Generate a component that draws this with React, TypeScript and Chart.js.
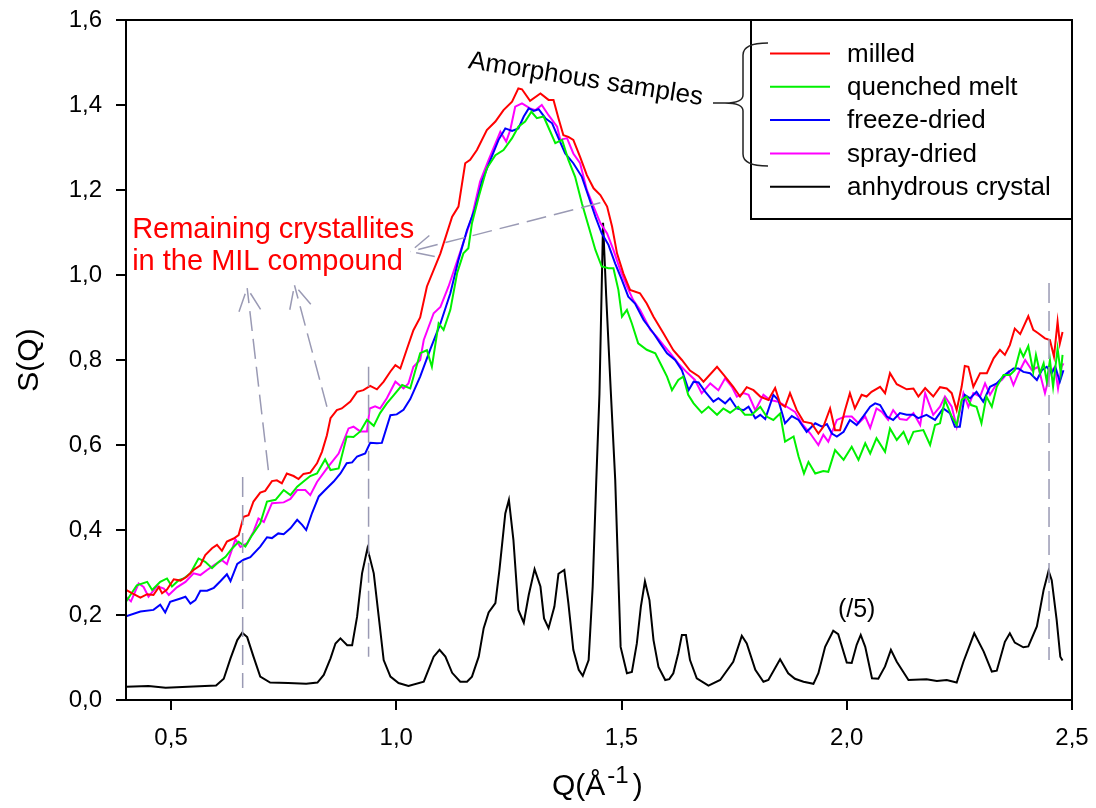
import React, { useEffect, useRef } from "react";
import { Chart, registerables } from "chart.js";

Chart.register(...registerables);

const FONT = '"Liberation Sans", Arial, Helvetica, sans-serif';

const seriesLabels = ["milled", "quenched melt", "freeze-dried", "spray-dried", "anhydrous crystal"];
const seriesColors = ["#ff0000", "#00f000", "#0000ff", "#ff00ff", "#000000"];

const milledQ = [0.400,0.412,0.432,0.447,0.461,0.473,0.480,0.491,0.506,0.521,0.535,0.550,0.565,0.576,0.591,0.602,0.613,0.624,0.639,0.650,0.661,0.672,0.683,0.698,0.709,0.724,0.735,0.746,0.757,0.772,0.783,0.794,0.809,0.824,0.835,0.846,0.854,0.868,0.879,0.898,0.913,0.927,0.942,0.957,0.972,0.987,0.998,1.009,1.024,1.038,1.053,1.068,1.098,1.124,1.138,1.153,1.164,1.179,1.201,1.220,1.238,1.257,1.271,1.279,1.297,1.320,1.338,1.349,1.360,1.371,1.382,1.393,1.408,1.423,1.438,1.453,1.468,1.479,1.490,1.504,1.519,1.541,1.556,1.571,1.593,1.615,1.634,1.652,1.671,1.682,1.712,1.730,1.748,1.763,1.778,1.793,1.808,1.826,1.841,1.852,1.863,1.874,1.889,1.904,1.922,1.937,1.948,1.963,1.974,1.985,1.996,2.007,2.018,2.033,2.044,2.055,2.074,2.085,2.096,2.111,2.133,2.148,2.159,2.174,2.192,2.207,2.222,2.233,2.244,2.255,2.262,2.270,2.281,2.296,2.311,2.326,2.340,2.351,2.362,2.373,2.385,2.403,2.414,2.425,2.440,2.451,2.460,2.468,2.473,2.479];
const milledS = [0.259,0.252,0.241,0.249,0.247,0.266,0.251,0.260,0.284,0.281,0.290,0.306,0.317,0.341,0.357,0.365,0.351,0.373,0.380,0.388,0.431,0.435,0.467,0.488,0.492,0.515,0.517,0.510,0.533,0.527,0.520,0.532,0.535,0.557,0.584,0.623,0.663,0.682,0.686,0.702,0.725,0.729,0.739,0.731,0.749,0.773,0.788,0.780,0.827,0.870,0.900,0.973,1.051,1.137,1.161,1.263,1.271,1.294,1.341,1.361,1.388,1.408,1.439,1.437,1.410,1.427,1.412,1.412,1.369,1.329,1.325,1.318,1.278,1.235,1.204,1.188,1.161,1.114,1.051,1.004,0.965,0.957,0.933,0.902,0.863,0.823,0.800,0.775,0.762,0.749,0.784,0.761,0.737,0.714,0.736,0.729,0.714,0.706,0.734,0.698,0.690,0.722,0.682,0.655,0.651,0.627,0.643,0.686,0.635,0.635,0.682,0.722,0.686,0.718,0.714,0.725,0.737,0.722,0.769,0.743,0.731,0.733,0.714,0.734,0.714,0.736,0.733,0.722,0.682,0.737,0.786,0.784,0.737,0.769,0.769,0.804,0.824,0.812,0.835,0.874,0.861,0.903,0.871,0.863,0.851,0.847,0.808,0.890,0.839,0.866];

const quenchedQ = [0.400,0.424,0.447,0.458,0.476,0.491,0.502,0.517,0.528,0.543,0.561,0.576,0.591,0.606,0.621,0.635,0.650,0.665,0.680,0.698,0.713,0.732,0.750,0.765,0.780,0.794,0.809,0.824,0.842,0.854,0.872,0.890,0.905,0.920,0.935,0.950,0.964,0.979,0.994,1.013,1.031,1.053,1.068,1.079,1.094,1.105,1.120,1.135,1.149,1.160,1.168,1.183,1.201,1.220,1.238,1.257,1.271,1.286,1.300,1.312,1.327,1.342,1.353,1.368,1.382,1.397,1.412,1.427,1.442,1.456,1.471,1.482,1.493,1.501,1.512,1.523,1.537,1.556,1.575,1.590,1.601,1.612,1.626,1.637,1.648,1.660,1.678,1.693,1.712,1.726,1.741,1.759,1.774,1.789,1.808,1.822,1.837,1.852,1.863,1.882,1.893,1.905,1.915,1.930,1.948,1.959,1.974,1.993,2.011,2.026,2.041,2.052,2.066,2.085,2.096,2.111,2.126,2.137,2.148,2.170,2.185,2.196,2.207,2.218,2.233,2.244,2.255,2.266,2.276,2.288,2.299,2.310,2.322,2.333,2.348,2.362,2.373,2.385,2.392,2.403,2.414,2.420,2.429,2.437,2.444,2.451,2.458,2.468,2.475,2.479];
const quenchedS = [0.231,0.270,0.278,0.259,0.278,0.286,0.267,0.282,0.286,0.298,0.333,0.325,0.310,0.325,0.337,0.356,0.372,0.361,0.388,0.416,0.467,0.471,0.494,0.482,0.502,0.514,0.527,0.533,0.566,0.541,0.545,0.620,0.619,0.632,0.659,0.645,0.675,0.698,0.717,0.741,0.733,0.816,0.823,0.784,0.886,0.871,0.918,1.004,1.051,1.063,1.122,1.184,1.251,1.282,1.294,1.322,1.349,1.361,1.384,1.369,1.373,1.337,1.310,1.318,1.271,1.231,1.169,1.114,1.059,1.020,1.016,1.016,0.965,0.902,0.918,0.886,0.839,0.824,0.816,0.784,0.761,0.729,0.753,0.761,0.718,0.698,0.676,0.690,0.671,0.686,0.676,0.690,0.671,0.671,0.690,0.667,0.659,0.674,0.608,0.620,0.573,0.533,0.560,0.533,0.539,0.537,0.588,0.565,0.596,0.565,0.604,0.580,0.616,0.584,0.639,0.612,0.631,0.604,0.631,0.635,0.600,0.647,0.651,0.706,0.667,0.647,0.706,0.714,0.694,0.690,0.651,0.714,0.690,0.737,0.765,0.765,0.776,0.824,0.808,0.833,0.772,0.812,0.769,0.792,0.749,0.800,0.737,0.827,0.769,0.812];

const freezeQ = [0.400,0.432,0.461,0.476,0.487,0.498,0.521,0.532,0.543,0.554,0.565,0.580,0.595,0.610,0.624,0.632,0.647,0.661,0.676,0.698,0.713,0.724,0.738,0.750,0.765,0.780,0.791,0.800,0.813,0.828,0.842,0.861,0.876,0.890,0.902,0.913,0.931,0.942,0.957,0.968,0.987,1.001,1.016,1.031,1.053,1.075,1.098,1.120,1.138,1.157,1.175,1.190,1.209,1.227,1.242,1.257,1.271,1.283,1.294,1.305,1.316,1.331,1.346,1.360,1.375,1.393,1.412,1.427,1.442,1.456,1.471,1.486,1.501,1.515,1.530,1.549,1.571,1.586,1.601,1.619,1.634,1.649,1.660,1.671,1.686,1.704,1.715,1.730,1.741,1.756,1.771,1.782,1.797,1.808,1.819,1.837,1.848,1.863,1.878,1.893,1.911,1.930,1.945,1.956,1.967,1.978,1.993,2.007,2.022,2.037,2.052,2.063,2.074,2.089,2.103,2.118,2.133,2.148,2.159,2.177,2.196,2.214,2.229,2.240,2.251,2.262,2.274,2.288,2.303,2.318,2.333,2.351,2.370,2.381,2.392,2.407,2.422,2.433,2.444,2.455,2.463,2.473,2.481];
const freezeS = [0.197,0.208,0.212,0.224,0.206,0.231,0.239,0.243,0.227,0.235,0.257,0.257,0.264,0.280,0.296,0.280,0.320,0.330,0.336,0.361,0.383,0.381,0.392,0.390,0.404,0.424,0.412,0.400,0.440,0.479,0.494,0.514,0.533,0.557,0.559,0.573,0.580,0.605,0.604,0.605,0.670,0.672,0.683,0.708,0.761,0.824,0.886,0.957,1.035,1.106,1.157,1.220,1.271,1.318,1.345,1.339,1.345,1.373,1.392,1.386,1.390,1.369,1.357,1.322,1.286,1.263,1.231,1.184,1.137,1.098,1.071,1.027,0.988,0.949,0.933,0.894,0.863,0.839,0.816,0.800,0.776,0.729,0.749,0.747,0.725,0.702,0.710,0.698,0.710,0.686,0.682,0.690,0.663,0.671,0.661,0.718,0.706,0.651,0.668,0.659,0.631,0.651,0.643,0.649,0.627,0.620,0.631,0.659,0.647,0.668,0.690,0.698,0.694,0.667,0.659,0.675,0.671,0.671,0.663,0.671,0.659,0.686,0.675,0.643,0.643,0.718,0.710,0.725,0.702,0.737,0.745,0.765,0.780,0.780,0.772,0.769,0.753,0.776,0.784,0.769,0.784,0.749,0.776];

const sprayQ = [0.400,0.411,0.428,0.439,0.450,0.469,0.484,0.495,0.513,0.532,0.550,0.565,0.580,0.598,0.613,0.624,0.643,0.654,0.669,0.683,0.694,0.706,0.724,0.750,0.765,0.780,0.798,0.809,0.824,0.846,0.872,0.894,0.905,0.920,0.935,0.941,0.953,0.964,0.979,0.998,1.016,1.027,1.038,1.053,1.061,1.083,1.098,1.116,1.131,1.146,1.168,1.186,1.205,1.231,1.244,1.253,1.264,1.279,1.297,1.309,1.323,1.338,1.357,1.364,1.379,1.393,1.408,1.423,1.438,1.453,1.468,1.482,1.497,1.512,1.526,1.541,1.564,1.578,1.593,1.608,1.626,1.645,1.663,1.678,1.697,1.715,1.730,1.745,1.756,1.771,1.782,1.797,1.815,1.830,1.848,1.867,1.885,1.900,1.919,1.937,1.948,1.959,1.978,1.996,2.011,2.026,2.041,2.052,2.066,2.078,2.092,2.103,2.118,2.133,2.148,2.163,2.174,2.192,2.207,2.218,2.233,2.244,2.259,2.270,2.281,2.296,2.307,2.318,2.333,2.344,2.359,2.370,2.381,2.396,2.411,2.425,2.440,2.451,2.462,2.469,2.477,2.481];
const sprayS = [0.243,0.232,0.274,0.266,0.243,0.268,0.262,0.247,0.265,0.278,0.298,0.294,0.306,0.319,0.329,0.320,0.378,0.360,0.369,0.396,0.427,0.419,0.463,0.465,0.473,0.494,0.494,0.482,0.513,0.545,0.580,0.639,0.643,0.632,0.632,0.686,0.691,0.686,0.710,0.749,0.733,0.745,0.784,0.800,0.847,0.910,0.925,0.973,1.020,1.067,1.137,1.220,1.271,1.337,1.314,1.341,1.396,1.404,1.392,1.388,1.400,1.376,1.349,1.318,1.322,1.286,1.263,1.200,1.161,1.122,1.098,1.059,1.012,0.973,0.941,0.918,0.871,0.855,0.835,0.816,0.792,0.771,0.753,0.722,0.745,0.729,0.757,0.737,0.714,0.722,0.718,0.682,0.718,0.706,0.702,0.690,0.678,0.651,0.627,0.600,0.624,0.608,0.659,0.667,0.667,0.651,0.667,0.640,0.686,0.678,0.659,0.682,0.661,0.659,0.675,0.647,0.722,0.671,0.690,0.714,0.690,0.643,0.722,0.690,0.722,0.714,0.745,0.718,0.745,0.753,0.772,0.741,0.769,0.800,0.776,0.784,0.722,0.769,0.784,0.733,0.784,0.792];

const crystalQ = [0.400,0.450,0.488,0.550,0.600,0.617,0.632,0.647,0.658,0.669,0.683,0.698,0.720,0.760,0.800,0.825,0.839,0.854,0.865,0.876,0.891,0.902,0.913,0.924,0.936,0.950,0.961,0.972,0.987,1.005,1.027,1.061,1.083,1.096,1.109,1.124,1.142,1.157,1.168,1.183,1.194,1.205,1.220,1.229,1.242,1.250,1.260,1.271,1.283,1.294,1.307,1.320,1.328,1.338,1.351,1.360,1.373,1.382,1.393,1.405,1.414,1.427,1.436,1.444,1.451,1.459,1.466,1.476,1.486,1.498,1.512,1.523,1.534,1.543,1.552,1.562,1.571,1.582,1.597,1.606,1.615,1.626,1.634,1.643,1.652,1.667,1.693,1.719,1.748,1.767,1.778,1.797,1.815,1.826,1.852,1.870,1.885,1.904,1.926,1.937,1.952,1.970,1.981,2.000,2.011,2.022,2.031,2.041,2.056,2.070,2.085,2.098,2.111,2.137,2.177,2.200,2.222,2.244,2.259,2.283,2.304,2.322,2.333,2.351,2.362,2.373,2.392,2.403,2.422,2.437,2.448,2.455,2.466,2.474,2.479];
const crystalS = [0.031,0.033,0.029,0.032,0.034,0.050,0.098,0.141,0.158,0.148,0.102,0.055,0.041,0.040,0.038,0.041,0.059,0.098,0.133,0.145,0.129,0.129,0.196,0.298,0.357,0.298,0.196,0.094,0.055,0.040,0.033,0.043,0.102,0.118,0.102,0.064,0.043,0.043,0.055,0.102,0.169,0.206,0.228,0.306,0.439,0.471,0.377,0.212,0.182,0.247,0.308,0.267,0.192,0.169,0.220,0.297,0.306,0.228,0.118,0.071,0.057,0.094,0.267,0.518,0.720,1.123,0.950,0.730,0.518,0.125,0.063,0.066,0.133,0.220,0.279,0.235,0.141,0.078,0.047,0.049,0.063,0.110,0.153,0.153,0.094,0.051,0.034,0.047,0.090,0.151,0.133,0.071,0.043,0.047,0.096,0.063,0.050,0.043,0.038,0.063,0.125,0.163,0.155,0.088,0.087,0.130,0.153,0.125,0.051,0.050,0.079,0.118,0.090,0.047,0.049,0.045,0.047,0.041,0.090,0.157,0.114,0.067,0.069,0.137,0.157,0.135,0.124,0.126,0.173,0.259,0.304,0.282,0.188,0.102,0.093];

const seriesQ = [milledQ, quenchedQ, freezeQ, sprayQ, crystalQ];
const seriesS = [milledS, quenchedS, freezeS, sprayS, crystalS];

const xTicks = [0.5, 1.0, 1.5, 2.0, 2.5];
const yTicks = [0, 0.2, 0.4, 0.6, 0.8, 1.0, 1.2, 1.4, 1.6];

// annotation anchors in data units (Q, S)
const guideQ = [0.659, 0.9385, 2.449];
const guideTopS = [0.525, 0.784, 0.981];
const guideBottomS = [0.028, 0.102, 0.094];
const arrowTailQ = [0.716, 0.846, 1.453];
const arrowTailS = [0.541, 0.690, 1.170];
const arrowTipQ = [0.669, 0.774, 1.031];
const arrowTipS = [0.969, 0.976, 1.055];

const fmt = (v: number) => v.toFixed(1).replace(".", ",");

const overlay = {
  id: "overlay",
  afterDraw(chart: any) {
    const { ctx, chartArea: a, scales } = chart;
    const xs = scales.x;
    const ys = scales.y;
    const px = (q: number) => xs.getPixelForValue(q);
    const py = (s: number) => ys.getPixelForValue(s);
    ctx.save();

    // frame
    ctx.strokeStyle = "#000";
    ctx.lineWidth = 2;
    ctx.strokeRect(a.left, a.top, a.right - a.left, a.bottom - a.top);

    // dashed guides
    ctx.strokeStyle = "#9a9ab4";
    ctx.lineWidth = 1.5;
    ctx.setLineDash([20, 8]);
    for (let i = 0; i < guideQ.length; i++) {
      ctx.beginPath();
      ctx.moveTo(px(guideQ[i]), py(guideTopS[i]));
      ctx.lineTo(px(guideQ[i]), py(guideBottomS[i]));
      ctx.stroke();
    }
    // dashed arrows
    for (let i = 0; i < arrowTailQ.length; i++) {
      const x0 = px(arrowTailQ[i]), y0 = py(arrowTailS[i]);
      const x1 = px(arrowTipQ[i]), y1 = py(arrowTipS[i]);
      ctx.setLineDash([20, 8]);
      ctx.beginPath();
      ctx.moveTo(x0, y0);
      ctx.lineTo(x1, y1);
      ctx.stroke();
      const ang = Math.atan2(y0 - y1, x0 - x1);
      ctx.setLineDash([]);
      ctx.beginPath();
      for (const d of [-0.45, 0.45]) {
        ctx.moveTo(x1 + 6 * Math.cos(ang + d), y1 + 6 * Math.sin(ang + d));
        ctx.lineTo(x1 + 25 * Math.cos(ang + d), y1 + 25 * Math.sin(ang + d));
      }
      ctx.stroke();
    }
    ctx.setLineDash([]);

    // legend box
    const lx = a.right - 321;
    const ly = a.top;
    ctx.fillStyle = "#fff";
    ctx.fillRect(lx, ly, a.right - lx, 199);
    ctx.strokeStyle = "#000";
    ctx.lineWidth = 2;
    ctx.strokeRect(lx, ly, a.right - lx, 199);
    ctx.font = `26px ${FONT}`;
    ctx.textBaseline = "middle";
    ctx.textAlign = "left";
    for (let i = 0; i < seriesLabels.length; i++) {
      const ry = ly + 33.5 + i * 33.3;
      ctx.strokeStyle = seriesColors[i];
      ctx.lineWidth = 2;
      ctx.beginPath();
      ctx.moveTo(lx + 19, ry);
      ctx.lineTo(lx + 79, ry);
      ctx.stroke();
      ctx.fillStyle = "#000";
      ctx.fillText(seriesLabels[i], lx + 96, ry + 1);
    }

    // brace
    const bx = lx - 8;
    ctx.strokeStyle = "#222";
    ctx.lineWidth = 1.5;
    ctx.beginPath();
    ctx.moveTo(lx + 17, ly + 23);
    ctx.quadraticCurveTo(bx, ly + 23, bx, ly + 35);
    ctx.lineTo(bx, ly + 75);
    ctx.quadraticCurveTo(bx, ly + 83, bx - 18, ly + 83);
    ctx.quadraticCurveTo(bx, ly + 83, bx, ly + 91);
    ctx.lineTo(bx, ly + 134);
    ctx.quadraticCurveTo(bx, ly + 146, lx + 17, ly + 146);
    ctx.moveTo(bx - 18, ly + 83);
    ctx.lineTo(bx - 30, ly + 83);
    ctx.stroke();

    // Amorphous samples
    ctx.fillStyle = "#000";
    ctx.font = `26px ${FONT}`;
    ctx.textBaseline = "alphabetic";
    ctx.save();
    ctx.translate(px(1.158), py(1.487));
    ctx.rotate((9 * Math.PI) / 180);
    ctx.fillText("Amorphous samples", 0, 0);
    ctx.restore();

    // red annotation
    ctx.fillStyle = "#ff0000";
    ctx.font = `29px ${FONT}`;
    ctx.fillText("Remaining crystallites", px(0.4136), py(1.086));
    ctx.fillText("in the MIL compound", px(0.4136), py(1.086) + 32);

    // (/5)
    ctx.fillStyle = "#000";
    ctx.font = `25px ${FONT}`;
    ctx.textAlign = "center";
    ctx.fillText("(/5)", px(2.022), py(0.196));

    // x axis title with superscript
    ctx.textAlign = "left";
    const tx = 552;
    const tyb = 795;
    ctx.font = `30px ${FONT}`;
    ctx.fillText("Q(Å", tx, tyb);
    const w1 = ctx.measureText("Q(Å").width;
    ctx.font = `24px ${FONT}`;
    ctx.fillText("-1", tx + w1 + 2, tyb - 12);
    const w2 = ctx.measureText("-1").width;
    ctx.font = `30px ${FONT}`;
    ctx.fillText(")", tx + w1 + w2 + 6, tyb);

    // y axis title
    ctx.save();
    ctx.translate(38, (a.top + a.bottom) / 2);
    ctx.rotate(-Math.PI / 2);
    ctx.textAlign = "center";
    ctx.textBaseline = "alphabetic";
    ctx.font = `30px ${FONT}`;
    ctx.fillText("S(Q)", 0, 0);
    ctx.restore();

    ctx.restore();
  },
};

export default function App() {
  const ref = useRef<HTMLCanvasElement | null>(null);
  useEffect(() => {
    if (!ref.current) return;
    const datasets = seriesLabels.map((label, i) => ({
      label,
      data: seriesQ[i].map((q, j) => ({ x: q, y: seriesS[i][j] })),
      borderColor: seriesColors[i],
      backgroundColor: seriesColors[i],
      borderWidth: 2,
      pointRadius: 0,
      tension: 0,
      fill: false,
    }));
    const chart = new Chart(ref.current, {
      type: "line",
      data: { datasets },
      options: {
        responsive: false,
        animation: false,
        events: [],
        layout: { autoPadding: false, padding: { left: 0, right: 24, top: 20, bottom: 0 } },
        plugins: { legend: { display: false }, tooltip: { enabled: false } },
        scales: {
          x: {
            type: "linear",
            min: 0.4,
            max: 2.5,
            afterBuildTicks: (s: any) => {
              s.ticks = xTicks.map((v) => ({ value: v }));
            },
            afterFit: (s: any) => {
              s.height = 108;
              s.paddingLeft = 0;
              s.paddingRight = 0;
              s.paddingTop = 0;
              s.paddingBottom = 0;
            },
            ticks: {
              callback: (v: any) => fmt(Number(v)),
              font: { family: FONT, size: 24 },
              color: "#000",
              padding: 14,
              maxRotation: 0,
            },
            grid: { drawOnChartArea: false, drawTicks: true, tickLength: 10, color: "#000", lineWidth: 2 },
            border: { display: true, color: "#000", width: 2 },
          },
          y: {
            type: "linear",
            min: 0,
            max: 1.6,
            afterBuildTicks: (s: any) => {
              s.ticks = yTicks.map((v) => ({ value: v }));
            },
            afterFit: (s: any) => {
              s.width = 126;
              s.paddingLeft = 0;
              s.paddingRight = 0;
              s.paddingTop = 0;
              s.paddingBottom = 0;
            },
            ticks: {
              callback: (v: any) => fmt(Number(v)),
              font: { family: FONT, size: 24 },
              color: "#000",
              padding: 14,
            },
            grid: { drawOnChartArea: false, drawTicks: true, tickLength: 10, color: "#000", lineWidth: 2 },
            border: { display: true, color: "#000", width: 2 },
          },
        },
      },
      plugins: [overlay],
    });
    return () => chart.destroy();
  }, []);
  return (
    <div style={{ position: "absolute", left: 0, top: 0, width: 1096, height: 808, background: "#fff" }}>
      <canvas ref={ref} width={1096} height={808} style={{ display: "block" }} />
    </div>
  );
}
